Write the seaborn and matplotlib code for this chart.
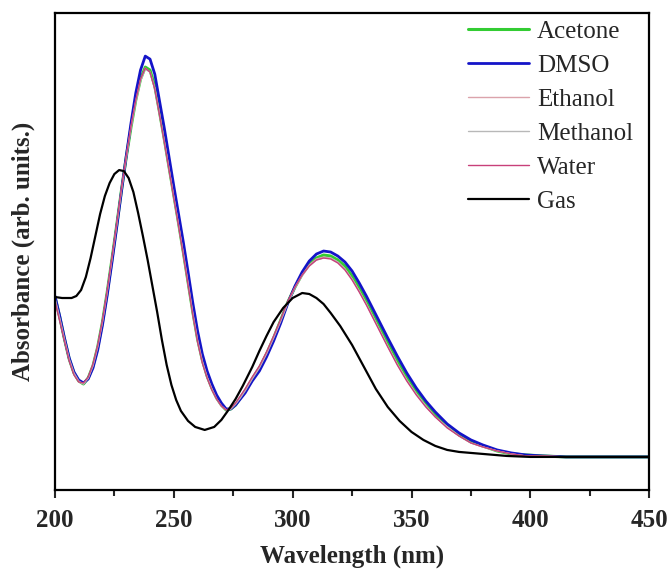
import pandas as pd
import seaborn as sns
import matplotlib.pyplot as plt
from matplotlib.ticker import MultipleLocator

# wavelength grid shared by the solvent spectra (nm)
wl_solv = [200, 202, 204, 206, 208, 210, 212, 214, 216, 218, 220, 222, 224, 226, 228,
           230, 232, 234, 236, 238, 240, 242, 244, 246, 248, 250, 252, 254, 256, 258,
           260, 262, 264, 266, 268, 270, 272, 274, 276, 278, 280, 283, 286, 289, 292,
           295, 298, 301, 304, 307, 310, 313, 316, 319, 322, 325, 328, 331, 334, 337,
           340, 344, 348, 352, 356, 360, 365, 370, 375, 380, 386, 392, 398, 405, 415,
           430, 450]

# absorbance, arb. units
acetone = [160, 140, 118, 98, 84, 76, 73, 79, 91, 110, 135, 165, 198, 232, 267,
           300, 330, 357, 378, 390, 387, 371, 345, 318, 290, 262, 234, 205, 175, 145,
           118, 97, 81, 69, 59, 52, 47, 48, 52, 59, 66, 78, 89, 103, 119,
           137, 155, 170, 183, 193, 199, 202, 201, 197, 191, 181, 169, 156, 142, 128,
           114, 96, 80, 65, 53, 42, 31, 22, 15, 11, 6, 3, 2, 1, 0,
           0, 0]
dmso = [161, 141, 119, 99, 85, 77, 74, 78, 89, 107, 132, 162, 195, 230, 266,
        301, 334, 364, 387, 401, 398, 383, 356, 329, 300, 271, 243, 215, 185, 154,
        126, 103, 86, 73, 62, 54, 48, 48, 52, 58, 64, 76, 86, 100, 116,
        134, 154, 171, 185, 196, 203, 206, 205, 201, 195, 186, 174, 161, 147, 133,
        119, 101, 84, 69, 56, 45, 33, 24, 17, 12, 7, 4, 2, 1, 0,
        0, 0]
ethanol = [158, 138, 117, 97, 83, 75, 73, 79, 92, 111, 136, 166, 199, 233, 268,
           300, 330, 356, 377, 389, 385, 369, 343, 316, 288, 260, 232, 203, 173, 143,
           116, 95, 80, 68, 58, 51, 47, 48, 53, 60, 67, 79, 90, 104, 120,
           137, 155, 170, 182, 192, 198, 200, 199, 195, 188, 178, 166, 153, 139, 125,
           111, 93, 77, 63, 51, 40, 30, 21, 14, 10, 6, 3, 1, 1, 0,
           0, 0]
methanol = [159, 139, 118, 98, 84, 76, 73, 79, 91, 110, 135, 165, 198, 232, 267,
            299, 329, 355, 376, 388, 385, 369, 343, 316, 288, 260, 232, 204, 174, 144,
            117, 96, 80, 68, 58, 51, 47, 48, 53, 59, 66, 78, 89, 103, 119,
            136, 154, 169, 181, 191, 197, 199, 199, 195, 188, 178, 166, 153, 139, 125,
            111, 93, 77, 63, 51, 40, 30, 21, 14, 10, 6, 3, 1, 1, 0,
            0, 0]
water = [156, 136, 116, 96, 82, 75, 74, 80, 93, 112, 137, 167, 200, 234, 269,
         301, 331, 357, 378, 389, 385, 368, 342, 315, 287, 259, 231, 202, 172, 142,
         115, 94, 79, 67, 58, 51, 47, 49, 54, 61, 68, 80, 91, 105, 121,
         138, 156, 170, 182, 191, 197, 199, 198, 194, 187, 177, 165, 152, 138, 124,
         110, 92, 76, 62, 50, 40, 29, 21, 14, 10, 6, 3, 1, 1, 0,
         0, 0]

# gas phase spectrum
wl_gas = [200, 203, 207, 209, 211, 213, 215, 217, 219, 221, 223, 225, 227, 229, 231,
          233, 235, 237, 239, 241, 243, 245, 247, 249, 251, 253, 256, 259, 263, 267,
          270, 273, 276, 279, 283, 286, 289, 292, 296, 300, 304, 307, 310, 313, 316,
          320, 325, 330, 335, 340, 345, 350, 355, 360, 365, 370, 375, 380, 390, 400,
          450]
gas = [160, 159, 159, 161, 167, 180, 199, 221, 243, 261, 274, 283, 287, 286, 279,
       265, 244, 221, 197, 171, 145, 117, 92, 72, 57, 46, 36, 30, 27, 30,
       37, 47, 58, 71, 90, 106, 121, 135, 149, 159, 164, 163, 159, 153, 144,
       131, 112, 90, 68, 50, 36, 25, 17, 11, 7, 5, 4, 3, 1, 0,
       0]

series = [
    ('Acetone', wl_solv, acetone, '#33cc33', 2.2),
    ('DMSO', wl_solv, dmso, '#1414c8', 2.0),
    ('Ethanol', wl_solv, ethanol, '#dba3ab', 1.0),
    ('Methanol', wl_solv, methanol, '#b8b8b8', 1.0),
    ('Water', wl_solv, water, '#c8407a', 1.0),
    ('Gas', wl_gas, gas, 'black', 1.6),
]

sns.set_style('ticks')
plt.rcParams['font.family'] = ['Liberation Serif', 'DejaVu Serif']

fig = plt.figure(figsize=(6.7, 5.71), dpi=100)
ax = fig.add_axes([0.082, 0.142, 0.887, 0.835])

for name, x, y, c, lw in series:
    df = pd.DataFrame({'wl': x, 'abs': y})
    sns.lineplot(data=df, x='wl', y='abs', ax=ax, color=c, linewidth=lw, label=name)

ax.set_xlim(200, 450)
ax.set_ylim(-33, 444)
ax.set_yticks([])
ax.xaxis.set_major_locator(MultipleLocator(50))
ax.xaxis.set_minor_locator(MultipleLocator(25))
ax.tick_params(axis='x', which='major', direction='out', length=6, width=1.5,
               labelsize=18, pad=8)
ax.tick_params(axis='x', which='minor', direction='out', length=4, width=1.5)
for lab in ax.get_xticklabels():
    lab.set_fontweight('bold')
for sp in ax.spines.values():
    sp.set_linewidth(1.6)
    sp.set_color('black')

ax.set_xlabel('Wavelength (nm)', fontsize=18, fontweight='bold', labelpad=9)
ax.set_ylabel('Absorbance (arb. units.)', fontsize=18, fontweight='bold', labelpad=14)

ax.legend(loc='upper left', bbox_to_anchor=(0.695, 0.985), frameon=False, fontsize=18,
          handlelength=2.45, handletextpad=0.32, labelspacing=0.46, borderpad=0,
          borderaxespad=0)

fig.savefig('out.png', dpi=100)
